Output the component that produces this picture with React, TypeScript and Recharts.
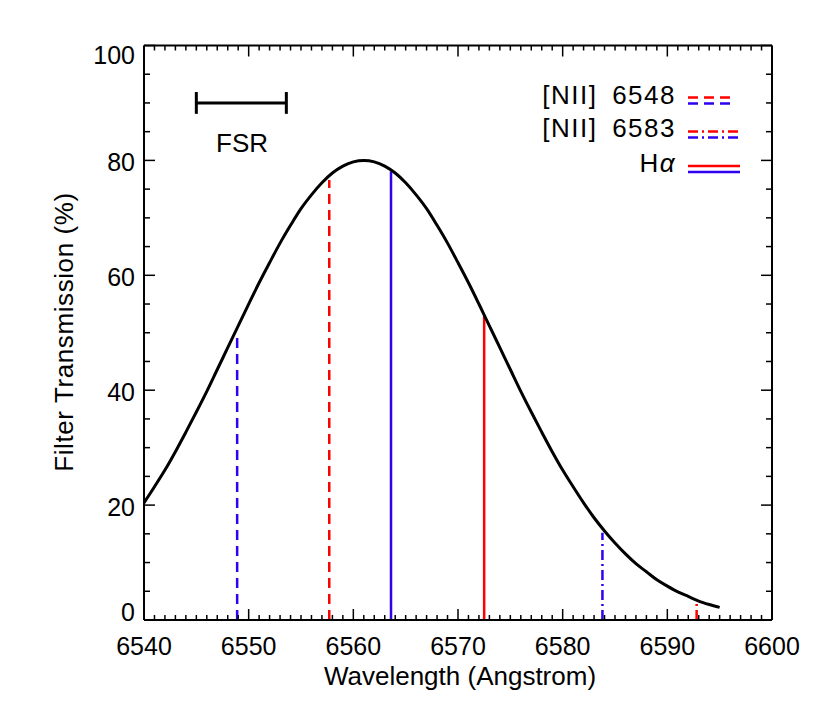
import React from "react";
import { LineChart, Line, XAxis, YAxis, ReferenceLine } from "recharts";

// filter transmission curve at 1 A steps
const WAVELENGTH = [
  6540, 6541, 6542, 6543, 6544, 6545, 6546, 6547, 6548, 6549, 6550, 6551, 6552, 6553,
  6554, 6555, 6556, 6557, 6558, 6559, 6560, 6561, 6562, 6563, 6564, 6565, 6566, 6567,
  6568, 6569, 6570, 6571, 6572, 6573, 6574, 6575, 6576, 6577, 6578, 6579, 6580, 6581,
  6582, 6583, 6584, 6585, 6586, 6587, 6588, 6589, 6590, 6591, 6592, 6593, 6594, 6595,
];
const TRANSMISSION = [
  20.4, 23.2, 26.1, 29.3, 32.7, 36.2, 39.8, 43.6, 47.4, 51.2, 55.0, 58.7, 62.2, 65.6,
  68.7, 71.6, 74.0, 76.1, 77.8, 79.0, 79.75, 80.0, 79.75, 79.0, 77.8, 76.1, 74.0, 71.6,
  68.7, 65.6, 62.2, 58.7, 55.0, 51.2, 47.4, 43.6, 39.8, 36.2, 32.7, 29.3, 26.1, 23.2,
  20.4, 17.8, 15.5, 13.4, 11.5, 9.8, 8.4, 7.0, 5.9, 4.9, 4.1, 3.3, 2.7, 2.2,
];

// emission lines (blue = rest frame, red = shifted)
const LINE_WAVES = [6548.9, 6557.7, 6563.6, 6572.5, 6583.8, 6592.8];
const LINE_TOPS = [50.0, 76.6, 78.1, 53.0, 15.2, 3.0];
const LINE_COLORS = ["blue", "red", "blue", "red", "blue", "red"];
const LINE_KINDS = ["dash", "dash", "solid", "solid", "dashdot", "dashdot"];

const LEGEND_LABELS = ["[NII] 6548", "[NII] 6583", "H"];
const LEGEND_KINDS = ["dash", "dashdot", "solid"];

const FSR_RANGE = [6545, 6553.6];
const FSR_LEVEL = 90;

const X_LABELS = [6540, 6550, 6560, 6570, 6580, 6590, 6600];
const Y_LABELS = [0, 20, 40, 60, 80, 100];

const X_MINOR = Array.from({ length: 61 }, (_, i) => 6540 + i);
const Y_MINOR = Array.from({ length: 21 }, (_, i) => i * 5);

const RED = "#ff0000";
const BLUE = "#3000f0";
const FONT = "'Liberation Sans', Arial, sans-serif";
const DASH: Record<string, string | undefined> = {
  dash: "10 6",
  dashdot: "10 4 2 4",
  solid: undefined,
};

const curve = WAVELENGTH.map((w, i) => ({ w, t: TRANSMISSION[i] }));

function BottomTick(props: any) {
  const { x, y, payload } = props;
  const major = X_LABELS.includes(payload.value);
  return (
    <g>
      <line x1={x} x2={x} y1={y} y2={y - (major ? 11 : 5)} stroke="#000" strokeWidth={1.5} />
      {major && (
        <text x={x} y={y + 35} textAnchor="middle" fontSize={25} fontFamily={FONT} fill="#000">
          {payload.value}
        </text>
      )}
    </g>
  );
}

function TopTick(props: any) {
  const { x, y, payload } = props;
  const major = X_LABELS.includes(payload.value);
  return <line x1={x} x2={x} y1={y} y2={y + (major ? 11 : 5)} stroke="#000" strokeWidth={1.5} />;
}

function LeftTick(props: any) {
  const { x, y, payload } = props;
  const major = Y_LABELS.includes(payload.value);
  let base = y + 10.5;
  if (payload.value === 0) base = y + 1;
  if (payload.value === 100) base = y + 18;
  return (
    <g>
      <line x1={x} x2={x + (major ? 11 : 6)} y1={y} y2={y} stroke="#000" strokeWidth={1.5} />
      {major && (
        <text x={x - 9} y={base} textAnchor="end" fontSize={25} fontFamily={FONT} fill="#000">
          {payload.value}
        </text>
      )}
    </g>
  );
}

function RightTick(props: any) {
  const { x, y, payload } = props;
  const major = Y_LABELS.includes(payload.value);
  return <line x1={x} x2={x - (major ? 11 : 6)} y1={y} y2={y} stroke="#000" strokeWidth={1.5} />;
}

function Overlay() {
  const rows = [
    { base: 103.5, red: 97.5, blue: 103.5 },
    { base: 137, red: 131.5, blue: 137.5 },
    { base: 172, red: 166, blue: 172 },
  ];
  return (
    <svg
      width={830}
      height={712}
      style={{ position: "absolute", left: 0, top: 0, pointerEvents: "none" }}
    >
      <text x={460} y={685} textAnchor="middle" fontSize={26} fontFamily={FONT} fill="#000">
        Wavelength (Angstrom)
      </text>
      <text
        x={73}
        y={332}
        textAnchor="middle"
        fontSize={26}
        letterSpacing={0.6}
        fontFamily={FONT}
        fill="#000"
        transform="rotate(-90, 73, 332)"
      >
        Filter Transmission (%)
      </text>
      <text x={242} y={152} textAnchor="middle" fontSize={26} fontFamily={FONT} fill="#000">
        FSR
      </text>
      {LEGEND_LABELS.map((label, i) => {
        const r = rows[i];
        const x2 = LEGEND_KINDS[i] === "dash" ? 735 : 740;
        return (
          <g key={label}>
            <text
              x={676}
              y={r.base}
              textAnchor="end"
              fontSize={26}
              letterSpacing={1.5}
              wordSpacing={6}
              fontFamily={FONT}
              fill="#000"
            >
              {label}
              {i === 2 && <tspan fontStyle="italic">α</tspan>}
            </text>
            <line x1={688} x2={x2} y1={r.red} y2={r.red} stroke={RED} strokeWidth={2.5} strokeDasharray={DASH[LEGEND_KINDS[i]]} />
            <line x1={688} x2={x2} y1={r.blue} y2={r.blue} stroke={BLUE} strokeWidth={2.5} strokeDasharray={DASH[LEGEND_KINDS[i]]} />
          </g>
        );
      })}
    </svg>
  );
}

export default function App() {
  return (
    <div style={{ position: "absolute", left: 0, top: 0, width: 830, height: 712, background: "#fff" }}>
      <LineChart
        width={830}
        height={712}
        data={curve}
        margin={{ top: 44.5, left: 143, right: 57, bottom: 91 }}
      >
        <XAxis
          dataKey="w"
          type="number"
          domain={[6540, 6600]}
          ticks={X_MINOR}
          interval={0}
          height={1}
          tickSize={0}
          tickMargin={0}
          tickLine={false}
          tick={<BottomTick />}
          axisLine={{ stroke: "#000", strokeWidth: 2 }}
          allowDataOverflow
        />
        <XAxis
          xAxisId="top"
          orientation="top"
          dataKey="w"
          type="number"
          domain={[6540, 6600]}
          ticks={X_MINOR}
          interval={0}
          height={1}
          tickSize={0}
          tickMargin={0}
          tickLine={false}
          tick={<TopTick />}
          axisLine={{ stroke: "#000", strokeWidth: 2 }}
          allowDataOverflow
        />
        <YAxis
          type="number"
          domain={[0, 100]}
          ticks={Y_MINOR}
          interval={0}
          width={1}
          tickSize={0}
          tickMargin={0}
          tickLine={false}
          tick={<LeftTick />}
          axisLine={{ stroke: "#000", strokeWidth: 2 }}
          allowDataOverflow
        />
        <YAxis
          yAxisId="right"
          orientation="right"
          type="number"
          domain={[0, 100]}
          ticks={Y_MINOR}
          interval={0}
          width={1}
          tickSize={0}
          tickMargin={0}
          tickLine={false}
          tick={<RightTick />}
          axisLine={{ stroke: "#000", strokeWidth: 2 }}
          allowDataOverflow
        />
        {LINE_WAVES.map((w, i) => (
          <ReferenceLine
            key={w}
            segment={[
              { x: w, y: 0 },
              { x: w, y: LINE_TOPS[i] },
            ]}
            stroke={LINE_COLORS[i] === "red" ? RED : BLUE}
            strokeWidth={2.5}
            strokeDasharray={DASH[LINE_KINDS[i]]}
            ifOverflow="visible"
          />
        ))}
        <ReferenceLine
          segment={[
            { x: FSR_RANGE[0], y: FSR_LEVEL },
            { x: FSR_RANGE[1], y: FSR_LEVEL },
          ]}
          stroke="#000"
          strokeWidth={3}
          ifOverflow="visible"
        />
        {FSR_RANGE.map((w) => (
          <ReferenceLine
            key={w}
            segment={[
              { x: w, y: FSR_LEVEL - 1.9 },
              { x: w, y: FSR_LEVEL + 1.9 },
            ]}
            stroke="#000"
            strokeWidth={3}
            ifOverflow="visible"
          />
        ))}
        <Line
          type="monotone"
          dataKey="t"
          stroke="#000"
          strokeWidth={3}
          dot={false}
          isAnimationActive={false}
        />
      </LineChart>
      <Overlay />
    </div>
  );
}
